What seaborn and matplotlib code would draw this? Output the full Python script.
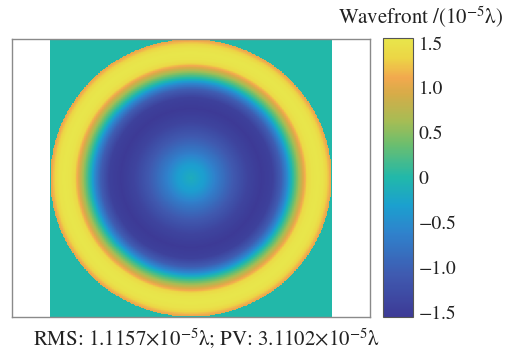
"""
Wavefront map with RMS / PV annotation (parula-like colour map).
"""

import numpy as np
import matplotlib
matplotlib.use("Agg")  # non-interactive backend
import matplotlib.pyplot as plt
from matplotlib.colors import LinearSegmentedColormap
import seaborn as sns

# radial profile of the wavefront (units of 1e-5 lambda)
radius = [0.0, 0.1, 0.2, 0.3, 0.4, 0.5, 0.58, 0.64, 0.68, 0.72,
          0.76, 0.8, 0.83, 0.86, 0.9, 0.94, 0.97, 1.0]
wavefront = [-0.15, -0.35, -0.75, -1.1, -1.4, -1.55, -1.45, -1.05, -0.6, 0.0,
             0.5, 1.0, 1.4, 1.52, 1.55, 1.5, 1.3, 1.0]

cbar_ticks = [1.5, 1.0, 0.5, 0.0, -0.5, -1.0, -1.5]
cbar_labels = ["1.5", "1.0", "0.5", "0", "\u22120.5", "\u22121.0", "\u22121.5"]
rms_value = "1.1157"
pv_value = "3.1102"
v_lim = 1.5551

# parula-ish colours as they appear in the reference
parula_like = LinearSegmentedColormap.from_list("parula_like", [
    (0.00, "#3d3a96"), (0.15, "#3f5ab0"), (0.30, "#2f82cc"),
    (0.40, "#1ba0cf"), (0.50, "#21b8aa"), (0.62, "#6cbe6e"),
    (0.70, "#a4bd55"), (0.80, "#d6ac48"), (0.86, "#f2a94e"),
    (0.93, "#ecd545"), (1.00, "#e8e64b"),
])

# build the map on a square grid, zero outside the pupil
n = 420
coords = np.linspace(-1, 1, n)
xx, yy = np.meshgrid(coords, coords)
rr = np.sqrt(xx ** 2 + yy ** 2)
field = np.interp(rr, radius, wavefront)
field[rr > 1.0] = 0.0

sns.set_style("white")
plt.rcParams["font.family"] = ["STIXGeneral", "DejaVu Serif"]
plt.rcParams["mathtext.fontset"] = "stix"

fig = plt.figure(figsize=(5.11, 3.53), dpi=100)
ax = fig.add_axes([0.0235, 0.102, 0.7006, 0.7875])
cax = fig.add_axes([0.7495, 0.102, 0.0587, 0.790])

sns.heatmap(field, ax=ax, cbar_ax=cax, cmap=parula_like,
            vmin=-v_lim, vmax=v_lim, xticklabels=False, yticklabels=False,
            rasterized=True)

# image sits in the middle of a wider box (axis equal style)
ax.set_xlim(-0.1348 * n, 1.1348 * n)
ax.set_ylim(n, 0)
ax.set_xticks([])
ax.set_yticks([])
for s in ax.spines.values():
    s.set_visible(True)
    s.set_color("#8a8a8a")
    s.set_linewidth(1.0)

cbar = ax.collections[0].colorbar
cbar.set_ticks(cbar_ticks)
cbar.set_ticklabels(cbar_labels)
cbar.ax.tick_params(direction="in", length=3, width=0.6, labelsize=14,
                    pad=4, colors="#555555", labelcolor="#222222")
cbar.outline.set_edgecolor("#555555")
cbar.outline.set_linewidth(0.8)

fig.text(0.822, 0.952, "Wavefront /(10$^{-5}$λ)", ha="center", va="center",
         fontsize=15, color="#222222")
fig.text(0.403, 0.042,
         f"RMS: {rms_value}×10$^{{-5}}$λ; PV: {pv_value}×10$^{{-5}}$λ",
         ha="center", va="center", fontsize=15, color="#222222")

fig.savefig("out.png", dpi=100)
plt.close(fig)
